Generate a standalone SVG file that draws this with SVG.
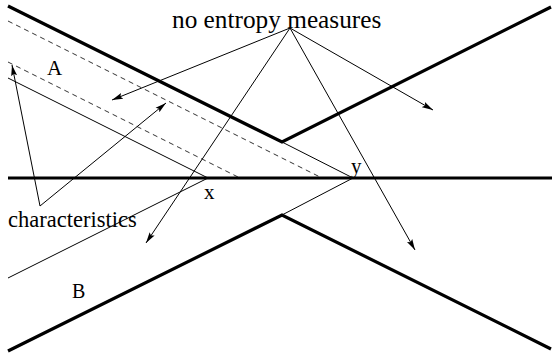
<svg xmlns="http://www.w3.org/2000/svg" width="552" height="356" viewBox="0 0 552 356">
  <style>
    .thick { stroke: #000; stroke-width: 3.2; fill: none; stroke-linejoin: miter; }
    .thin { stroke: #000; stroke-width: 1; fill: none; }
    .dash { stroke: #000; stroke-width: 0.8; fill: none; stroke-dasharray: 5 4; }
    .arrow { stroke: #000; stroke-width: 1; fill: none; marker-end: url(#ah); }
    text { font-family: "Liberation Serif", "DejaVu Serif", "Times New Roman", serif; fill: #000; }
  </style>
  <defs>
    <marker id="ah" markerWidth="12" markerHeight="8" refX="11" refY="4" orient="auto" markerUnits="userSpaceOnUse">
      <path d="M0,1 L11,4 L0,7 L2,4 Z" fill="#000"/>
    </marker>
  </defs>
  <rect width="552" height="356" fill="#fff"/>

  <g id="walls">
    <polyline class="thick" points="8,6 282,142 551,7"/>
    <line class="thick" x1="8" y1="178" x2="552" y2="178"/>
    <polyline class="thick" points="8,351 282,215 551,349"/>
  </g>

  <g id="characteristic-lines">
    <polyline class="thin" points="8,78 208,178 8,278"/>
    <polyline class="thin" points="282,142 353,178 282,215"/>
    <line class="dash" x1="8" y1="21" x2="322" y2="178"/>
    <line class="dash" x1="8" y1="62" x2="240" y2="178"/>
  </g>

  <g id="connectors">
    <line class="arrow" x1="290" y1="28" x2="112" y2="100"/>
    <line class="arrow" x1="290" y1="28" x2="146" y2="243"/>
    <line class="arrow" x1="290" y1="28" x2="415" y2="250"/>
    <line class="arrow" x1="290" y1="28" x2="433" y2="110"/>
    <line class="arrow" x1="40" y1="206" x2="12" y2="65"/>
    <line class="arrow" x1="40" y1="206" x2="166" y2="103"/>
  </g>

  <g id="label-no-entropy">
    <text x="172" y="28" font-family="Liberation Serif, DejaVu Serif, serif" font-size="25.3">no entropy measures</text>
  </g>
  <g id="label-characteristics">
    <text x="8" y="227" font-family="Liberation Serif, DejaVu Serif, serif" font-size="22.5">characteristics</text>
  </g>
  <g id="label-A">
    <text x="47" y="75" font-family="Liberation Serif, DejaVu Serif, serif" font-size="21">A</text>
  </g>
  <g id="label-B">
    <text x="72" y="298" font-family="Liberation Serif, DejaVu Serif, serif" font-size="20">B</text>
  </g>
  <g id="label-x">
    <text x="204" y="199" font-family="Liberation Serif, DejaVu Serif, serif" font-size="21">x</text>
  </g>
  <g id="label-y">
    <text x="351" y="173" font-family="Liberation Serif, DejaVu Serif, serif" font-size="21">y</text>
  </g>
</svg>
